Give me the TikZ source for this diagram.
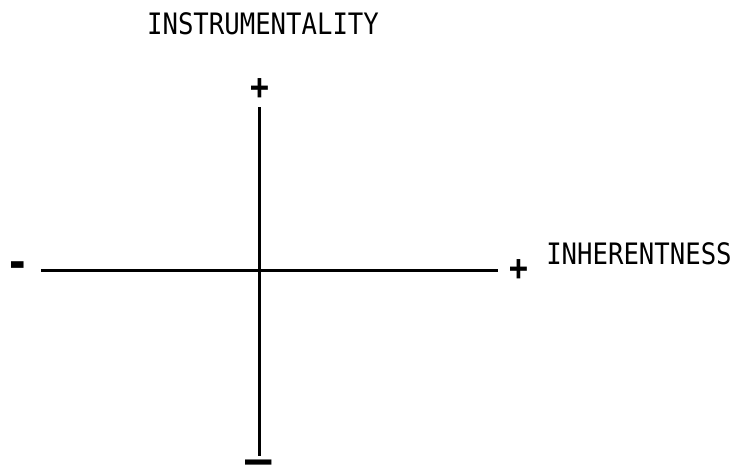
\documentclass[tikz,border=0pt]{standalone}
\usepackage{fontspec}
\setmonofont[FakeStretch=0.87]{DejaVu Sans Mono}
\usetikzlibrary{positioning}

\begin{document}
\begin{tikzpicture}[x=0.5pt,y=-0.5pt,
   axis/.style={line width=1.5pt},
   lab/.style={font=\fontsize{14.75}{16}\ttfamily,inner sep=0pt},
   sgn/.style={font=\fontsize{18}{20}\ttfamily\bfseries,inner sep=0pt}]
  \useasboundingbox (0,0) rectangle (736,467);
  % axes
  \coordinate (o) at (260,270);
  \coordinate (xl) at (41,270);
  \coordinate (xr) at (498,270);
  \coordinate (yt) at (260,107);
  \coordinate (yb) at (260,456);
  \draw[axis] (xl) -- (xr);
  \draw[axis] (yt) -- (yb);
  % signs at the ends
  \node[sgn] (ytop) at (260,89.5) {+};
  \node[sgn,anchor=base] (ybot) at (259,466) {\smash{\raisebox{-4pt}{\scalebox{1.4}[1.2]{–}}}};
  \node[sgn] (xleft) at (18,270) {\scalebox{1.3}[1.3]{-}};
  \node[sgn] (xright) at (518.5,270) {+};
  % axis names
  \node[lab,anchor=base] (instr) at (263,34) {INSTRUMENTALITY};
  \node[lab,anchor=base] (inher) at (639,264) {INHERENTNESS};
\end{tikzpicture}
\end{document}
